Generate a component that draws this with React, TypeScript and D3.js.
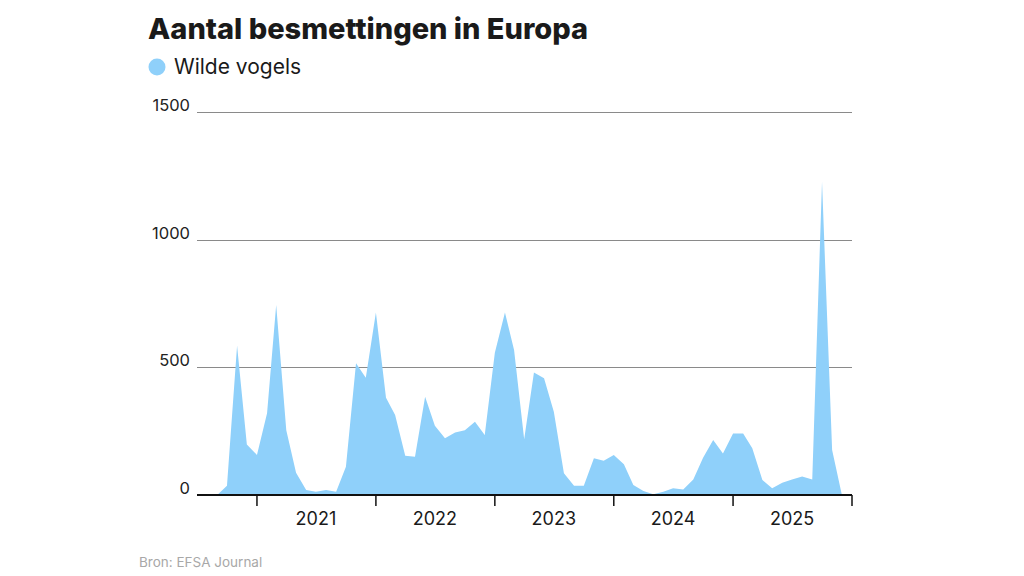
import React, { useEffect, useRef } from 'react';
import * as d3 from 'd3';

// monthly counts, Sep 2020 - Dec 2025
const firstMonth = new Date(2020, 8, 1);
const wildBirds: number[] = [
  0, 36, 585, 198, 157, 320, 744, 254, 87, 20, 13, 20,
  13, 111, 516, 459, 715, 381, 313, 154, 150, 385, 271, 222,
  245, 254, 287, 235, 557, 715, 568, 218, 480, 457, 326, 85,
  36, 36, 144, 134, 157, 120, 39, 16, 3, 13, 26, 22,
  61, 146, 215, 163, 241, 241, 183, 59, 26, 48, 61, 72,
  61, 1227, 176, 0,
];
const yTicks: number[] = [0, 500, 1000, 1500];
const yearLabels: number[] = [2021, 2022, 2023, 2024, 2025];

const title = 'Aantal besmettingen in Europa';
const seriesName = 'Wilde vogels';
const source = 'Bron: EFSA Journal';

const App: React.FC = () => {
  const ref = useRef<SVGSVGElement | null>(null);

  useEffect(() => {
    if (!ref.current) return;
    const svg = d3.select(ref.current);
    svg.selectAll('*').remove();

    const font = 'Inter, "Noto Sans", sans-serif';
    const fill = '#8fd0fa';
    const left = 197;
    const right = 852;
    const top = 112;
    const bottom = 495;

    const months = wildBirds.map((_, i) => d3.timeMonth.offset(firstMonth, i));
    const data = months.map((m, i) => ({ date: m, value: wildBirds[i] }));

    const x = d3
      .scaleTime()
      .domain([new Date(2020, 6, 1), new Date(2026, 0, 1)])
      .range([left, right]);
    const y = d3.scaleLinear().domain([0, 1500]).range([bottom, top]);

    svg.append('rect').attr('width', 1024).attr('height', 576).attr('fill', '#ffffff');

    // title + legend
    svg
      .append('text')
      .attr('x', 148)
      .attr('y', 39)
      .attr('font-family', font)
      .attr('font-weight', 800)
      .attr('font-size', 29)
      .attr('fill', '#1a1a1a')
      .text(title);
    svg.append('circle').attr('cx', 157).attr('cy', 67).attr('r', 8.5).attr('fill', fill);
    svg
      .append('text')
      .attr('x', 174)
      .attr('y', 74)
      .attr('font-family', font)
      .attr('font-size', 21)
      .attr('fill', '#1a1a1a')
      .text(seriesName);

    // gridlines
    const grid = svg.append('g');
    grid
      .selectAll('line')
      .data(yTicks.filter((d) => d > 0))
      .enter()
      .append('line')
      .attr('x1', left)
      .attr('x2', right)
      .attr('y1', (d) => Math.round(y(d)) + 0.5)
      .attr('y2', (d) => Math.round(y(d)) + 0.5)
      .attr('stroke', '#8a8a8a')
      .attr('stroke-width', 1);
    grid
      .selectAll('text')
      .data(yTicks)
      .enter()
      .append('text')
      .attr('x', 190)
      .attr('y', (d) => y(d) - 1)
      .attr('text-anchor', 'end')
      .attr('font-family', font)
      .attr('font-size', 16.5)
      .attr('fill', '#222')
      .text((d) => d);

    // area
    const area = d3
      .area<{ date: Date; value: number }>()
      .x((d) => x(d.date))
      .y0(y(0))
      .y1((d) => y(d.value));
    svg.append('path').datum(data).attr('d', area).attr('fill', fill);

    // x axis
    const axis = svg.append('g');
    axis
      .append('line')
      .attr('x1', left)
      .attr('x2', right)
      .attr('y1', bottom)
      .attr('y2', bottom)
      .attr('stroke', '#111')
      .attr('stroke-width', 2);
    const yearTicks = [...yearLabels, 2026].map((yr) => new Date(yr, 0, 1));
    axis
      .selectAll('.tick')
      .data(yearTicks)
      .enter()
      .append('line')
      .attr('x1', (d) => x(d))
      .attr('x2', (d) => x(d))
      .attr('y1', bottom)
      .attr('y2', bottom + 11)
      .attr('stroke', '#111')
      .attr('stroke-width', 1.5);
    axis
      .selectAll('.year')
      .data(yearLabels)
      .enter()
      .append('text')
      .attr('x', (d) => x(new Date(d, 6, 1)))
      .attr('y', 525)
      .attr('text-anchor', 'middle')
      .attr('font-family', font)
      .attr('font-size', 18)
      .attr('fill', '#1a1a1a')
      .text((d) => d);

    svg
      .append('text')
      .attr('x', 139)
      .attr('y', 567)
      .attr('font-family', font)
      .attr('font-size', 13.5)
      .attr('fill', '#a8a8a8')
      .text(source);
  }, []);

  return (
    <svg
      ref={ref}
      width={1024}
      height={576}
      style={{ position: 'absolute', left: 0, top: 0 }}
    ></svg>
  );
};

export default App;
